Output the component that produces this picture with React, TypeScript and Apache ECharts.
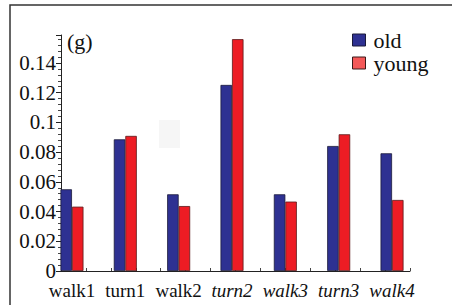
import React, { useEffect, useRef } from "react";
import * as echarts from "echarts";

const categories = ["walk1", "turn1", "walk2", "turn2", "walk3", "turn3", "walk4"];
const italicCats = ["turn2", "walk3", "turn3", "walk4"];
const oldValues = [0.055, 0.0886, 0.0516, 0.1252, 0.0516, 0.0841, 0.0792];
const youngValues = [0.0433, 0.0909, 0.0437, 0.156, 0.0467, 0.092, 0.0478];

const FONT = "Liberation Serif";

export default function App() {
  const ref = useRef<HTMLDivElement>(null);
  useEffect(() => {
    if (!ref.current) return;
    const chart = echarts.init(ref.current, undefined, { renderer: "svg" });
    const top = 35;
    const height = 236;
    const yMax = 0.1588;
    chart.setOption({
      animation: false,
      backgroundColor: "#ffffff",
      textStyle: { fontFamily: FONT, fontStyle: "normal", fontWeight: "normal" },
      grid: [
        { left: 45.3, width: 373.4, top, height },
        { left: 61, width: 349, top, height },
      ],
      legend: {
        orient: "vertical",
        left: 352,
        top: 29,
        padding: 0,
        icon: "rect",
        itemWidth: 13,
        itemHeight: 12,
        itemGap: 1,
        textStyle: {
          fontFamily: FONT,
          fontStyle: "normal",
          fontWeight: "normal",
          fontSize: 22,
          lineHeight: 20,
          color: "#111",
          padding: [0, 0, 0, 3],
        },
        data: [
          { name: "old", itemStyle: { color: "#2E3192", borderColor: "#1a1a3a", borderWidth: 1 } },
          { name: "young", itemStyle: { color: "#F45858", borderColor: "#3a1a1a", borderWidth: 1 } },
        ],
      },
      xAxis: [
        {
          type: "category",
          gridIndex: 0,
          data: categories,
          axisLine: { show: false },
          axisTick: { show: false },
          axisLabel: {
            margin: 10,
            fontFamily: FONT,
            fontStyle: "normal",
            fontWeight: "normal",
            fontSize: 19,
            color: "#111",
            interval: 0,
            formatter: (v: string) => (italicCats.includes(v) ? `{i|${v}}` : `{n|${v}}`),
            rich: {
              i: { fontStyle: "italic", fontWeight: "normal", fontFamily: FONT, fontSize: 19, color: "#111" },
              n: { fontStyle: "normal", fontWeight: "normal", fontFamily: FONT, fontSize: 19, color: "#111" },
            },
          },
        },
        {
          type: "value",
          gridIndex: 1,
          min: 0,
          max: 14,
          interval: 1,
          axisLine: { show: true, onZero: false, lineStyle: { color: "#222", width: 1 } },
          axisTick: { show: true, inside: true, length: 3, lineStyle: { color: "#444" } },
          axisLabel: { show: false },
          splitLine: { show: false },
        },
      ],
      yAxis: [
        {
          type: "value",
          gridIndex: 0,
          min: 0,
          max: yMax,
          show: false,
          splitLine: { show: false },
        },
        {
          type: "value",
          gridIndex: 1,
          min: 0,
          max: yMax,
          interval: 0.02,
          axisLine: { show: true, lineStyle: { color: "#222", width: 1 } },
          axisTick: { show: true, length: 5, lineStyle: { color: "#222" } },
          minorTick: { show: true, splitNumber: 5, length: 3, lineStyle: { color: "#444" } },
          splitLine: { show: false },
          axisLabel: {
            showMaxLabel: false,
            margin: 5,
            fontFamily: FONT,
            fontStyle: "normal",
            fontWeight: "normal",
            fontSize: 21,
            color: "#111",
            formatter: (v: number) => String(Math.round(v * 100) / 100),
          },
        },
      ],
      graphic: [
        {
          type: "polyline",
          shape: { points: [[10, 305], [10, 5], [452, 5]] },
          style: { stroke: "#333", lineWidth: 1.5, fill: "none" },
          silent: true,
        },
        {
          type: "rect",
          shape: { x: 159, y: 120, width: 21, height: 28 },
          style: { fill: "#f6f6f6" },
          silent: true,
          z: -1,
        },
        {
          type: "text",
          left: 67,
          top: 30,
          style: { text: "(g)", font: `22px 'Liberation Serif'`, fill: "#111" },
        },
      ],
      series: [
        {
          name: "old",
          type: "bar",
          xAxisIndex: 0,
          yAxisIndex: 0,
          data: oldValues,
          barWidth: 11.5,
          barGap: "0%",
          itemStyle: { color: "#2E3192", borderColor: "#1a1a3a", borderWidth: 0.8 },
        },
        {
          name: "young",
          type: "bar",
          xAxisIndex: 0,
          yAxisIndex: 0,
          data: youngValues,
          barWidth: 11.5,
          barGap: "0%",
          itemStyle: { color: "#ED1C24", borderColor: "#5a1a1a", borderWidth: 0.8 },
        },
      ],
    });
    return () => chart.dispose();
  }, []);
  return (
    <div
      ref={ref}
      style={{ position: "fixed", left: 0, top: 0, width: 452, height: 305 }}
    />
  );
}
